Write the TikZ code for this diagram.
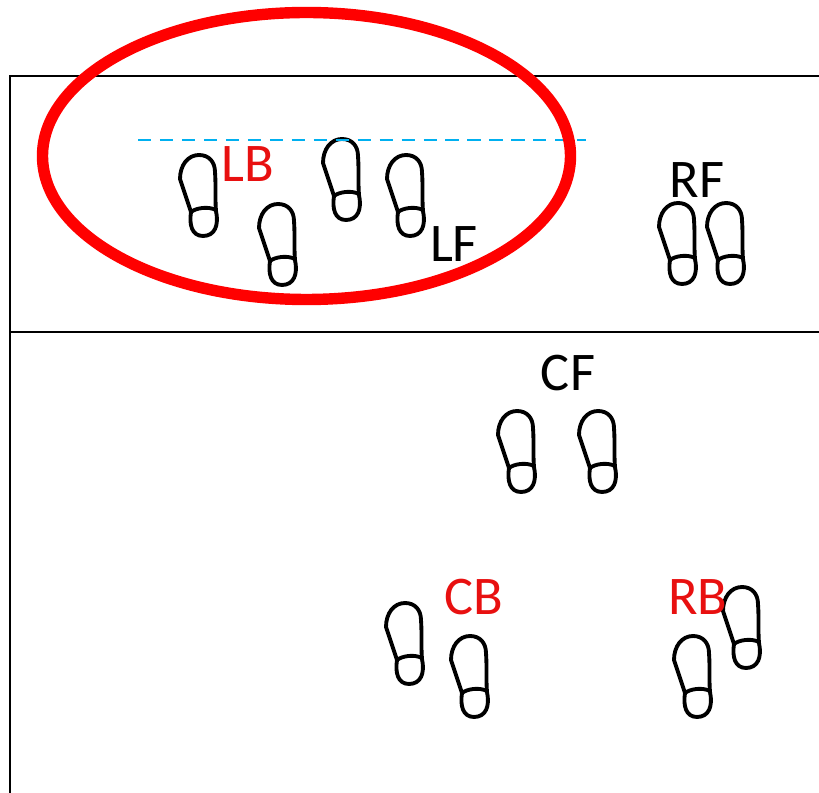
\documentclass[tikz,border=0pt]{standalone}
\usepackage{fontspec}
\usepackage{xcolor}
\setmainfont{Carlito}
\definecolor{backRed}{HTML}{E81010}
\definecolor{ringRed}{HTML}{FF0000}
\definecolor{lineCyan}{HTML}{00B0F0}
\tikzset{
  frontLab/.style={text=black, font=\fontsize{31}{31}\selectfont, inner sep=0pt},
  backLab/.style={text=backRed, font=\fontsize{31}{31}\selectfont, inner sep=0pt},
  pitchLine/.style={line width=1.4pt, draw=black},
  footLine/.style={line width=2.2pt, draw=black, line join=round},
  foot/.pic={
    \draw[footLine] (19,0) .. controls (29,0) and (35,7) .. (35,17)
      .. controls (36,30) and (35,45) .. (36,56)
      .. controls (39,70) and (35,81) .. (23,81)
      .. controls (12,81) and (9,70) .. (11,57)
      -- (0,24)
      .. controls (0,10) and (8,0) .. (19,0) -- cycle;
    \draw[footLine] (11,57) .. controls (16,53) and (28,51) .. (36,55);
  }
}

\begin{document}
\begin{tikzpicture}[x=0.02cm,y=-0.02cm]
\useasboundingbox (0,0) rectangle (819,793);

% pitch lines
\draw[pitchLine] (819,76) -- (10,76) -- (10,793);
\draw[pitchLine] (10,332) -- (819,332);

% feet
\foreach \fx/\fy in {180/155,259/204,323/139,387/155,659/203,707/203,
    498/411,579/411,386/603,451/636,674/636,723/587}
  \pic at (\fx,\fy) {foot};

% labels
\node[backLab] (lb) at (248,164) {LB};
\node[frontLab] (lf) at (454,244) {LF};
\node[frontLab] (rf) at (697,180) {RF};
\node[frontLab] (cf) at (568,373) {CF};
\node[backLab] (cb) at (474,597) {CB};
\node[backLab] (rb) at (698,597) {RB};

% back line and ring
\draw[draw=lineCyan, line width=1.3pt, dash pattern=on 7.5pt off 5pt] (138,140) -- (586,140);
\draw[draw=ringRed, line width=6.5pt] (306.5,156) ellipse [x radius=264, y radius=143.5];
\end{tikzpicture}
\end{document}
